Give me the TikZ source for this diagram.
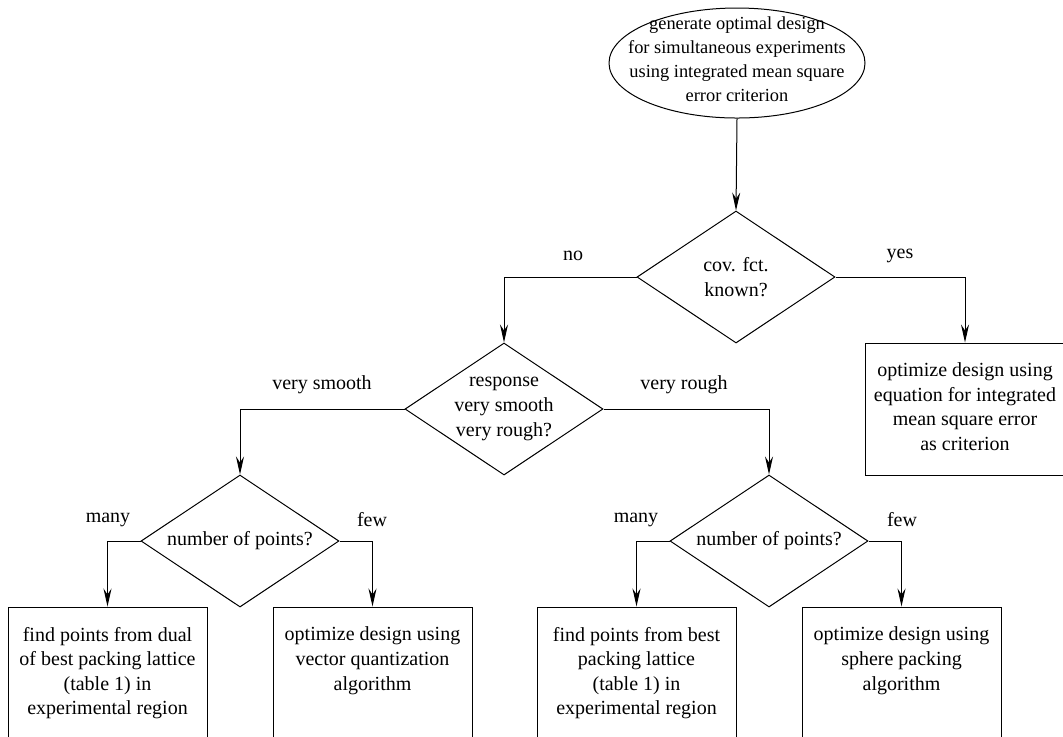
\documentclass[tikz,border=0pt]{standalone}
\usepackage{fontspec}
\setmainfont{Liberation Serif}
\newfontfamily\timesfont{Liberation Serif}
\usetikzlibrary{shapes.geometric,arrows.meta}
\begin{document}
\begin{tikzpicture}[x=0.5pt,y=-0.5pt,
  every node/.style={font=\timesfont\fontsize{10pt}{12.3pt}\selectfont},
  startnode/.style={ellipse, draw, line width=0.5pt, minimum width=128pt, minimum height=55pt, inner sep=0pt},
  dec/.style={diamond, draw, line width=0.5pt, minimum width=99pt, minimum height=66pt, inner sep=0pt},
  act/.style={rectangle, draw, line width=0.5pt, minimum width=99.5pt, minimum height=66pt, inner sep=0pt},
  intext/.style={align=center, inner sep=0pt},
  toptext/.style={align=center, inner sep=0pt, anchor=north, yshift=-10pt},
  conn/.style={line width=0.5pt, -{Stealth[length=9pt,width=4pt,inset=3pt]}},
  lbl/.style={inner sep=0pt}]
\useasboundingbox (0,0) rectangle (1063,736);
\clip (0,0) rectangle (1063,736);

\node[startnode, label={[intext, yshift=2pt, font=\timesfont\fontsize{9.2pt}{12pt}\selectfont]center:{generate optimal design\\for simultaneous experiments\\using integrated mean square\\error criterion}}] (start) at (737,63) {};

\node[dec, label={[intext]center:{cov. fct.\\known?}}] (d1) at (736,277) {};
\node[dec, label={[intext]center:{response\\very smooth\\very rough?}}] (d2) at (504,409) {};
\node[dec, label={[intext]center:{number of points?}}] (d3) at (240,541) {};
\node[dec, label={[intext]center:{number of points?}}] (d4) at (769,541) {};

\node[act, label={[toptext]north:{optimize design using\\equation for integrated\\mean square error\\as criterion}}] (r) at (965,409) {};
\node[act, label={[toptext]north:{find points from dual\\of best packing lattice\\(table 1) in\\experimental region}}] (b1) at (107.5,673) {};
\node[act, label={[toptext]north:{optimize design using\\vector quantization\\algorithm}}] (b2) at (372.5,673) {};
\node[act, label={[toptext]north:{find points from best\\packing lattice\\(table 1) in\\experimental region}}] (b3) at (636.5,673) {};
\node[act, label={[toptext]north:{optimize design using\\sphere packing\\algorithm}}] (b4) at (901.5,673) {};

\draw[conn] (start.south) -- (d1.north);
\draw[conn] (d1.west) -| (d2.north);
\draw[conn] (d1.east) -| (r.north);
\draw[conn] (d2.west) -| (d3.north);
\draw[conn] (d2.east) -| (d4.north);
\draw[conn] (d3.west) -| (b1.north);
\draw[conn] (d3.east) -| (b2.north);
\draw[conn] (d4.west) -| (b3.north);
\draw[conn] (d4.east) -| (b4.north);

\node[lbl] (lno) at (573,256) {no};
\node[lbl] (lyes) at (900,256) {yes};
\node[lbl] (lvs) at (322,385) {very smooth};
\node[lbl] (lvr) at (684,385) {very rough};
\node[lbl] (lm1) at (108,520) {many};
\node[lbl] (lf1) at (372,520) {few};
\node[lbl] (lm2) at (636,520) {many};
\node[lbl] (lf2) at (902,520) {few};
\end{tikzpicture}
\end{document}
